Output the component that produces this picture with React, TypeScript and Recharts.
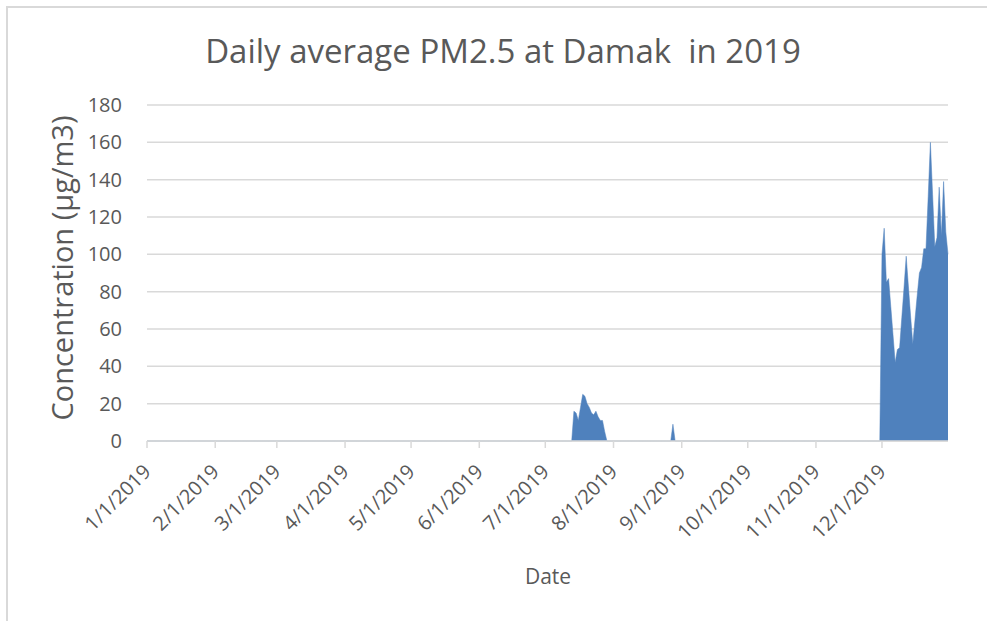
import React from 'react';
import { AreaChart, Area, XAxis, YAxis, CartesianGrid } from 'recharts';

// Tick positions (day of year, 0 = 1 Jan 2019) and their labels
const monthStartDays = [0, 31, 59, 90, 120, 151, 181, 212, 243, 273, 304, 334];
const monthLabels = [
  '1/1/2019', '2/1/2019', '3/1/2019', '4/1/2019', '5/1/2019', '6/1/2019',
  '7/1/2019', '8/1/2019', '9/1/2019', '10/1/2019', '11/1/2019', '12/1/2019',
];
const yTicks = [0, 20, 40, 60, 80, 100, 120, 140, 160, 180];

// Measured daily averages (µg/m3); days without readings plot at zero
const julyStartDay = 193; // 13 Jul
const julyValues = [0, 16, 15, 11, 18, 25, 24, 20, 18, 15, 14, 16, 13, 11, 11, 5, 0];
const augStartDay = 238; // 27 Aug
const augValues = [0, 9, 0];
const decStartDay = 333; // 30 Nov
const decValues = [
  0, 100, 114, 85, 87, 72, 57, 42, 49, 50, 66, 82, 99, 83, 67, 52, 65, 78, 90, 93,
  103, 103, 131, 160, 132, 104, 109, 136, 110, 139, 112, 100,
];
const LAST_DAY = 364;

function buildData() {
  const vals: number[] = [];
  for (let d = 0; d <= LAST_DAY; d++) vals.push(0);
  const put = (start: number, arr: number[]) => arr.forEach((v, i) => { vals[start + i] = v; });
  put(julyStartDay, julyValues);
  put(augStartDay, augValues);
  put(decStartDay, decValues);
  return vals.map((v, d) => ({ day: d, pm: v }));
}
const data = buildData();

const FONT = "'Open Sans', sans-serif";
const TEXT = '#595959';
const GRID = '#d9d9d9';

const XTick = (props: any) => {
  const { x, y, payload } = props;
  const idx = monthStartDays.indexOf(payload.value);
  const label = idx >= 0 ? monthLabels[idx] : '';
  return (
    <g transform={`translate(${x + 5},${y + 23})`}>
      <text x={0} y={0} textAnchor="end" transform="rotate(-45)" fontSize={20} fontFamily={FONT} fill={TEXT}>
        {label}
      </text>
    </g>
  );
};

export default function App() {
  return (
    <div style={{ position: 'absolute', left: 0, top: 0, width: 987, height: 621, background: '#fff' }}>
      <div style={{ position: 'absolute', left: 6, top: 6, right: 0, bottom: 0, borderLeft: `2px solid ${GRID}`, borderTop: `2px solid ${GRID}` }} />
      <AreaChart
        width={987}
        height={621}
        data={data}
        margin={{ top: 105, right: 39, bottom: 0, left: 0 }}
        style={{ position: 'absolute', left: 0, top: 0 }}
      >
        <CartesianGrid vertical={false} stroke={GRID} strokeWidth={1.5} />
        <XAxis
          dataKey="day"
          type="number"
          domain={[0, LAST_DAY]}
          ticks={monthStartDays}
          interval={0}
          axisLine={{ stroke: GRID, strokeWidth: 1.5 }}
          tickLine={{ stroke: GRID, strokeWidth: 1.5 }}
          tickSize={7}
          tick={<XTick />}
          height={180}
        />
        <YAxis
          type="number"
          domain={[0, 180]}
          ticks={yTicks}
          interval={0}
          axisLine={false}
          tickLine={false}
          tickMargin={19}
          width={147}
          tick={{ fontSize: 20, fill: TEXT, fontFamily: FONT }}
        />
        <Area
          type="linear"
          dataKey="pm"
          stroke="#4F81BD"
          strokeWidth={0.5}
          fill="#4F81BD"
          fillOpacity={1}
          dot={false}
          activeDot={false}
          isAnimationActive={false}
        />
      </AreaChart>
      <svg width={987} height={621} style={{ position: 'absolute', left: 0, top: 0, pointerEvents: 'none' }}>
        <text x={503} y={63} textAnchor="middle" fontSize={33} fontFamily={FONT} fill={TEXT} style={{ whiteSpace: 'pre' }}>
          {'Daily average PM2.5 at Damak  in 2019'}
        </text>
        <text x={0} y={0} transform="translate(73,268) rotate(-90)" textAnchor="middle" fontSize={29} fontFamily={FONT} fill={TEXT}>
          Concentration (µg/m3)
        </text>
        <text x={548} y={584} textAnchor="middle" fontSize={21} fontFamily={FONT} fill={TEXT}>
          Date
        </text>
      </svg>
    </div>
  );
}
